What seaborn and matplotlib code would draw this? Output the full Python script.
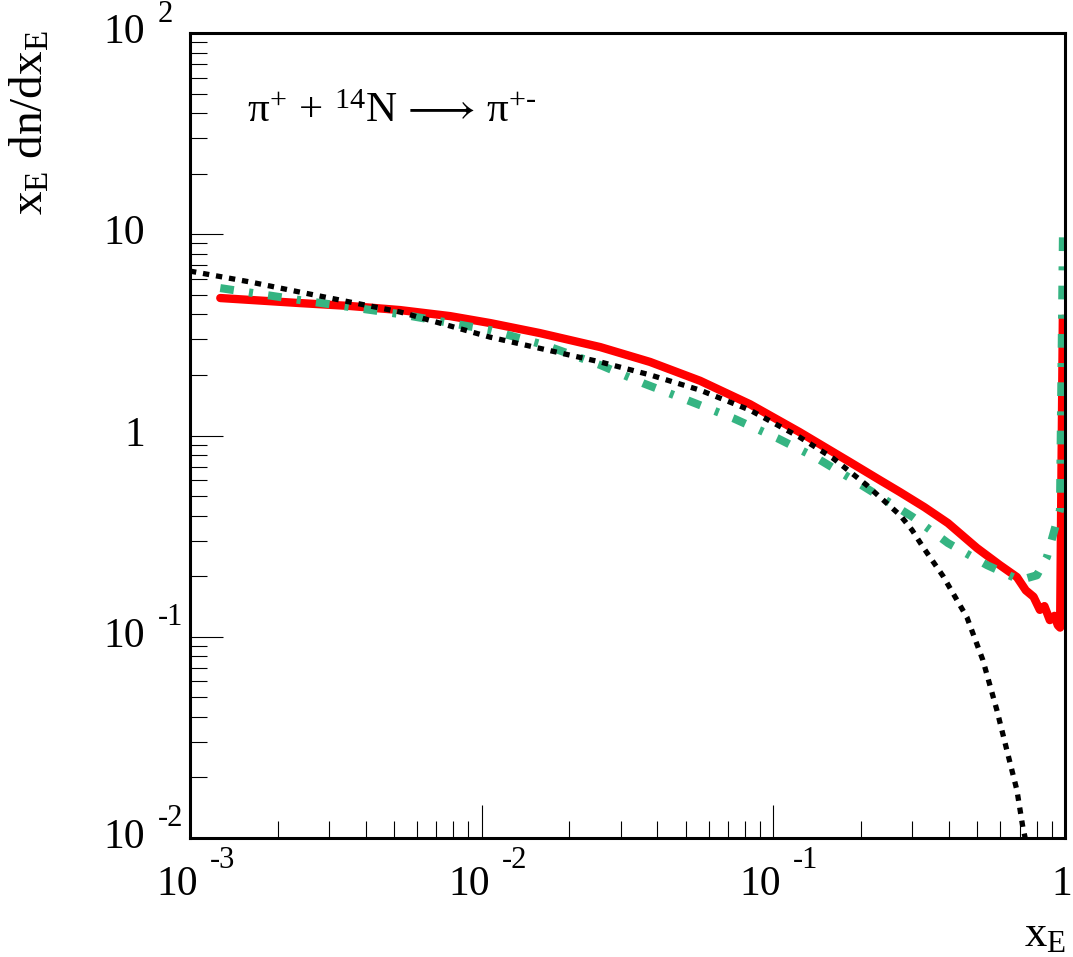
import numpy as np
import matplotlib
matplotlib.use("Agg")
from matplotlib import pyplot as plt
import seaborn as sns

# spectra
red_x = [0.00127, 0.00238, 0.00354, 0.00525, 0.00779, 0.0107, 0.0158, 0.0255, 0.0378, 0.0561,
         0.0832, 0.123, 0.183, 0.232, 0.272, 0.33, 0.397, 0.499, 0.598, 0.684, 0.734, 0.78, 0.82,
         0.85, 0.887, 0.92, 0.945, 0.962, 0.983]
red_y = [4.82, 4.55, 4.40, 4.20, 3.92, 3.62, 3.23, 2.75, 2.32, 1.87,
         1.43, 1.04, 0.738, 0.600, 0.523, 0.44, 0.367, 0.276, 0.227, 0.198, 0.170, 0.158, 0.136,
         0.142, 0.121, 0.127, 0.114, 0.111, 3.8]

green_x = [0.00127, 0.00238, 0.00525, 0.0107, 0.0165, 0.0255, 0.0357, 0.0506, 0.0727, 0.103,
           0.141, 0.193, 0.301, 0.397, 0.540, 0.700, 0.801, 0.867, 0.961, 0.984]
green_y = [5.40, 4.71, 4.01, 3.34, 2.81, 2.24, 1.82, 1.50, 1.22, 0.971,
           0.772, 0.587, 0.393, 0.292, 0.227, 0.191, 0.202, 0.249, 0.426, 10.1]

black_x = [0.001, 0.00161, 0.00238, 0.00525, 0.0107, 0.0255, 0.0378, 0.0561, 0.0832, 0.123, 0.160,
           0.209, 0.232, 0.272, 0.299, 0.326, 0.382, 0.461, 0.523, 0.584, 0.632, 0.684, 0.717, 0.758]
black_y = [6.56, 5.79, 5.16, 4.11, 3.08, 2.32, 2.0, 1.68, 1.337, 0.982, 0.772,
           0.567, 0.494, 0.402, 0.339, 0.279, 0.200, 0.125, 0.0765, 0.0432, 0.0273, 0.0173, 0.0113, 0.0078]

# tick labels, ROOT style "10 ^exp"
xtick_vals = [1e-3, 1e-2, 1e-1, 1]
xtick_base = ["10", "10", "10", "1"]
xtick_exp = ["-3", "-2", "-1", ""]
ytick_vals = [1e-2, 1e-1, 1, 10, 100]
ytick_base = ["10", "10", "1", "10", "10"]
ytick_exp = ["-2", "-1", "", "", "2"]

title = "$\\mathrm{\\pi^{+}\\,+\\,{}^{14}N\\,\\longrightarrow\\,\\pi^{+\u2010}}$"
xlabel = r"$\mathrm{x_{E}}$"
ylabel = r"$\mathrm{x_{E}\ dn/dx_{E}}$"

sns.set_style("white")
plt.rcParams["font.family"] = ["Liberation Serif", "DejaVu Serif"]
plt.rcParams["mathtext.fontset"] = "custom"
plt.rcParams["mathtext.rm"] = "Liberation Serif"
plt.rcParams["mathtext.it"] = "Liberation Serif:italic"
plt.rcParams["mathtext.bf"] = "Liberation Serif:bold"
plt.rcParams["text.color"] = "black"

W, H = 1073, 957
fig = plt.figure(figsize=(W / 100, H / 100), dpi=100)
ax = fig.add_axes([190 / W, 119 / H, 875 / W, 805 / H])

sns.lineplot(x=red_x, y=red_y, ax=ax, color="red", lw=6, sort=False, estimator=None)
sns.lineplot(x=green_x, y=green_y, ax=ax, color="#35b482", lw=5.8, sort=False, estimator=None,
             linestyle=(0, (1.7, 1.9, 0.5, 1.9)))
sns.lineplot(x=black_x, y=black_y, ax=ax, color="black", lw=3.8, sort=False, estimator=None,
             linestyle=(0, (1.2, 1.3)))

ax.set_xscale("log")
ax.set_yscale("log")
ax.set_xlim(1e-3, 1)
ax.set_ylim(1e-2, 1e2)
ax.set_xlabel("")
ax.set_ylabel("")

ax.tick_params(which="major", direction="in", length=23.8, width=0.8, color="black",
               top=False, right=False, bottom=True, left=True, labelbottom=False, labelleft=False)
ax.tick_params(which="minor", direction="in", length=12, width=0.8, color="black",
               top=False, right=False, bottom=True, left=True)
for s in ax.spines.values():
    s.set_linewidth(2.2)
    s.set_color("black")

fs_big, fs_exp = 30, 22
for v, b, e in zip(xtick_vals, xtick_base, xtick_exp):
    if e:
        ax.annotate(b, xy=(v, 0), xycoords=("data", "axes fraction"), xytext=(8, -47),
                    textcoords="offset pixels", ha="right", va="center", fontsize=fs_big)
        ax.annotate(e, xy=(v, 0), xycoords=("data", "axes fraction"), xytext=(20, -22),
                    textcoords="offset pixels", ha="left", va="center", fontsize=fs_exp)
    else:
        ax.annotate(b, xy=(v, 0), xycoords=("data", "axes fraction"), xytext=(-3, -47),
                    textcoords="offset pixels", ha="center", va="center", fontsize=fs_big)

for v, b, e in zip(ytick_vals, ytick_base, ytick_exp):
    ax.annotate(b, xy=(0, v), xycoords=("axes fraction", "data"), xytext=(-45, 0),
                textcoords="offset pixels", ha="right", va="center", fontsize=fs_big)
    if e:
        ax.annotate(e, xy=(0, v), xycoords=("axes fraction", "data"), xytext=(-32, 19),
                    textcoords="offset pixels", ha="left", va="center", fontsize=fs_exp)

fig.text(247 / W, 1 - 122 / H, title, ha="left", va="baseline", fontsize=31)
fig.text(31 / W, 1 - 30 / H, ylabel, rotation=90, ha="center", va="top", fontsize=34)
fig.text(1066 / W, 2 / H, xlabel, ha="right", va="bottom", fontsize=32)

fig.savefig("out.png", dpi=100)
